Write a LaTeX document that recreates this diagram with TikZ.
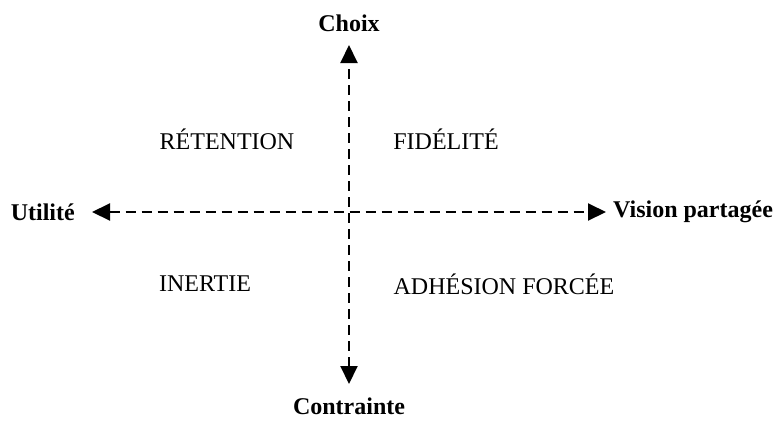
\documentclass[tikz,border=0pt]{standalone}
\usepackage{fontspec}
\setmainfont{Liberation Serif}
\usetikzlibrary{arrows.meta}
\begin{document}
\begin{tikzpicture}[x=1pt,y=-1pt,
  axis/.style={line width=2pt, dash pattern=on 10pt off 6pt, {Triangle[length=18pt,width=17pt]}-{Triangle[length=18pt,width=17pt]}},
  axlabel/.style={font=\fontsize{24}{28}\selectfont\bfseries, inner sep=0pt},
  quad/.style={font=\fontsize{24}{28}\selectfont, inner sep=0pt}]
\useasboundingbox (0,0) rectangle (779,421);
\node[axlabel] (top) at (349,23) {Choix};
\node[axlabel, anchor=base, text depth=0pt] (bot) at (349,414) {Contrainte};
\node[axlabel, anchor=east] (left) at (75,212) {Utilité};
\node[axlabel, anchor=west] (right) at (613,212) {Vision partagée};
\coordinate (t) at (349,45);
\coordinate (b) at (349,384);
\coordinate (l) at (92,212);
\coordinate (r) at (606,212);
\draw[axis] (b) -- (t);
\draw[axis] (l) -- (r);
\node[quad] (ret) at (227,139) {RÉTENTION};
\node[quad] (fid) at (446,139) {FIDÉLITÉ};
\node[quad] (ine) at (205,284) {INERTIE};
\node[quad] (adh) at (504,284) {ADHÉSION FORCÉE};
\end{tikzpicture}
\end{document}
